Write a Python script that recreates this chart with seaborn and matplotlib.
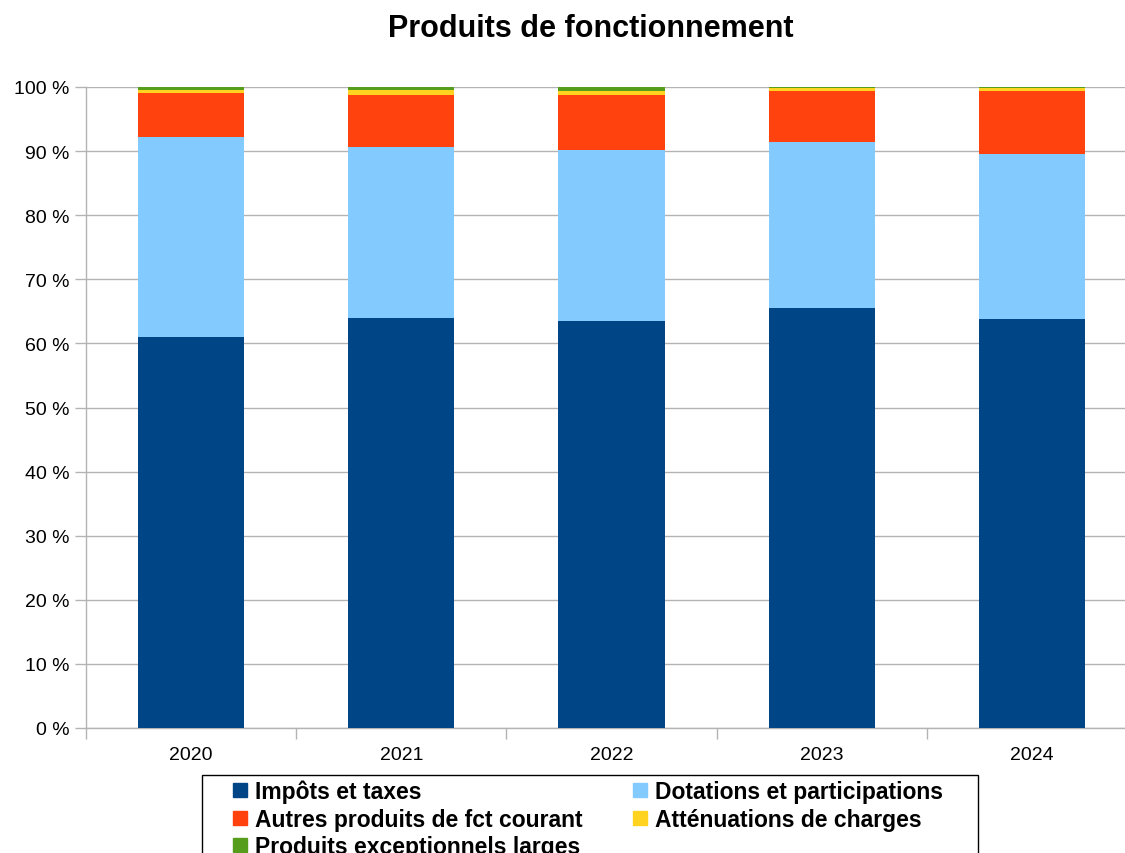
import matplotlib
matplotlib.use("Agg")
import matplotlib.pyplot as plt
import seaborn as sns
import numpy as np
from matplotlib.lines import Line2D
from matplotlib.patches import Rectangle
from matplotlib.ticker import FuncFormatter

years = ["2020", "2021", "2022", "2023", "2024"]
impots = [61.0, 64.0, 63.5, 65.5, 63.8]
dotations = [31.2, 26.6, 26.7, 25.9, 25.7]
autres = [6.9, 8.15, 8.55, 8.0, 9.9]
attenuations = [0.45, 0.75, 0.65, 0.45, 0.45]
exceptionnels = [0.45, 0.5, 0.6, 0.15, 0.15]

series_names = ["Impôts et taxes", "Dotations et participations",
                "Autres produits de fct courant", "Atténuations de charges",
                "Produits exceptionnels larges"]
series_vals = [impots, dotations, autres, attenuations, exceptionnels]
colors = ["#004586", "#83caff", "#ff420e", "#ffd320", "#579d1c"]

sns.set_theme(style="white")
plt.rcParams['font.family'] = ['Liberation Sans', 'DejaVu Sans']
plt.rcParams['text.color'] = 'black'
plt.rcParams['xtick.color'] = 'black'
plt.rcParams['ytick.color'] = 'black'
plt.rcParams['xtick.labelcolor'] = 'black'
plt.rcParams['ytick.labelcolor'] = 'black'

fig = plt.figure(figsize=(11.25, 8.54), dpi=100)
ax = fig.add_axes([86/1125, 1-729/854, (1137-86)/1125, (729-88)/854])

bottom = np.zeros(len(years))
for name, vals, c in zip(series_names, series_vals, colors):
    sns.barplot(x=years, y=vals, bottom=bottom, color=c, width=0.505,
                ax=ax, saturation=1, linewidth=0, zorder=3)
    bottom = bottom + np.array(vals)

ax.set_ylim(0, 100)
ax.set_xlim(-0.5, 4.5)
ax.set_yticks(np.arange(0, 101, 10))
ax.yaxis.set_major_formatter(FuncFormatter(lambda v, p: f"{v:.0f} %"))
ax.grid(axis='y', color='#b3b3b3', linewidth=1, zorder=0)
ax.set_axisbelow(True)
for s in ['top', 'right']:
    ax.spines[s].set_visible(False)
for s in ['left', 'bottom']:
    ax.spines[s].set_color('#b3b3b3')
    ax.spines[s].set_linewidth(1)
ax.set_xticks(np.arange(-0.5, 4.6, 1), minor=True)
ax.tick_params(axis='x', which='minor', length=8, color='#b3b3b3', width=1, direction='out', bottom=True)
ax.tick_params(axis='x', which='major', length=0, pad=13, labelsize=14, labelcolor='black')
ax.tick_params(axis='y', which='major', length=8, color='#b3b3b3', width=1, direction='out',
               left=True, pad=4, labelsize=14, labelcolor='black')
ax.set_xlabel('')
ax.set_ylabel('')

fig.text(591/1125, 1-29/854, "Produits de fonctionnement", ha='center', va='center',
         fontsize=22, fontweight='bold', color='black')

# legend frame
frame = Rectangle((202/1125, -0.1), (978-202)/1125, 0.1 + (854-776)/854,
                  transform=fig.transFigure, facecolor='white', edgecolor='black',
                  linewidth=1, clip_on=False)
fig.patches.append(frame)

order = [0, 2, 4, 1, 3]
handles = [Line2D([0], [0], marker='s', linestyle='none', markersize=9.5,
                  markerfacecolor=colors[i], markeredgecolor=colors[i]) for i in order]
labels = [series_names[i] for i in order]
leg = fig.legend(handles, labels, ncol=2, loc='upper left',
                 bbox_to_anchor=(231/1125, 1-781/854),
                 prop={'weight': 'bold', 'size': 16.5}, frameon=False,
                 handlelength=0.8, handletextpad=0.25, columnspacing=2.1,
                 labelspacing=0.18, borderpad=0, borderaxespad=0)

fig.savefig("out.png", dpi=100)
